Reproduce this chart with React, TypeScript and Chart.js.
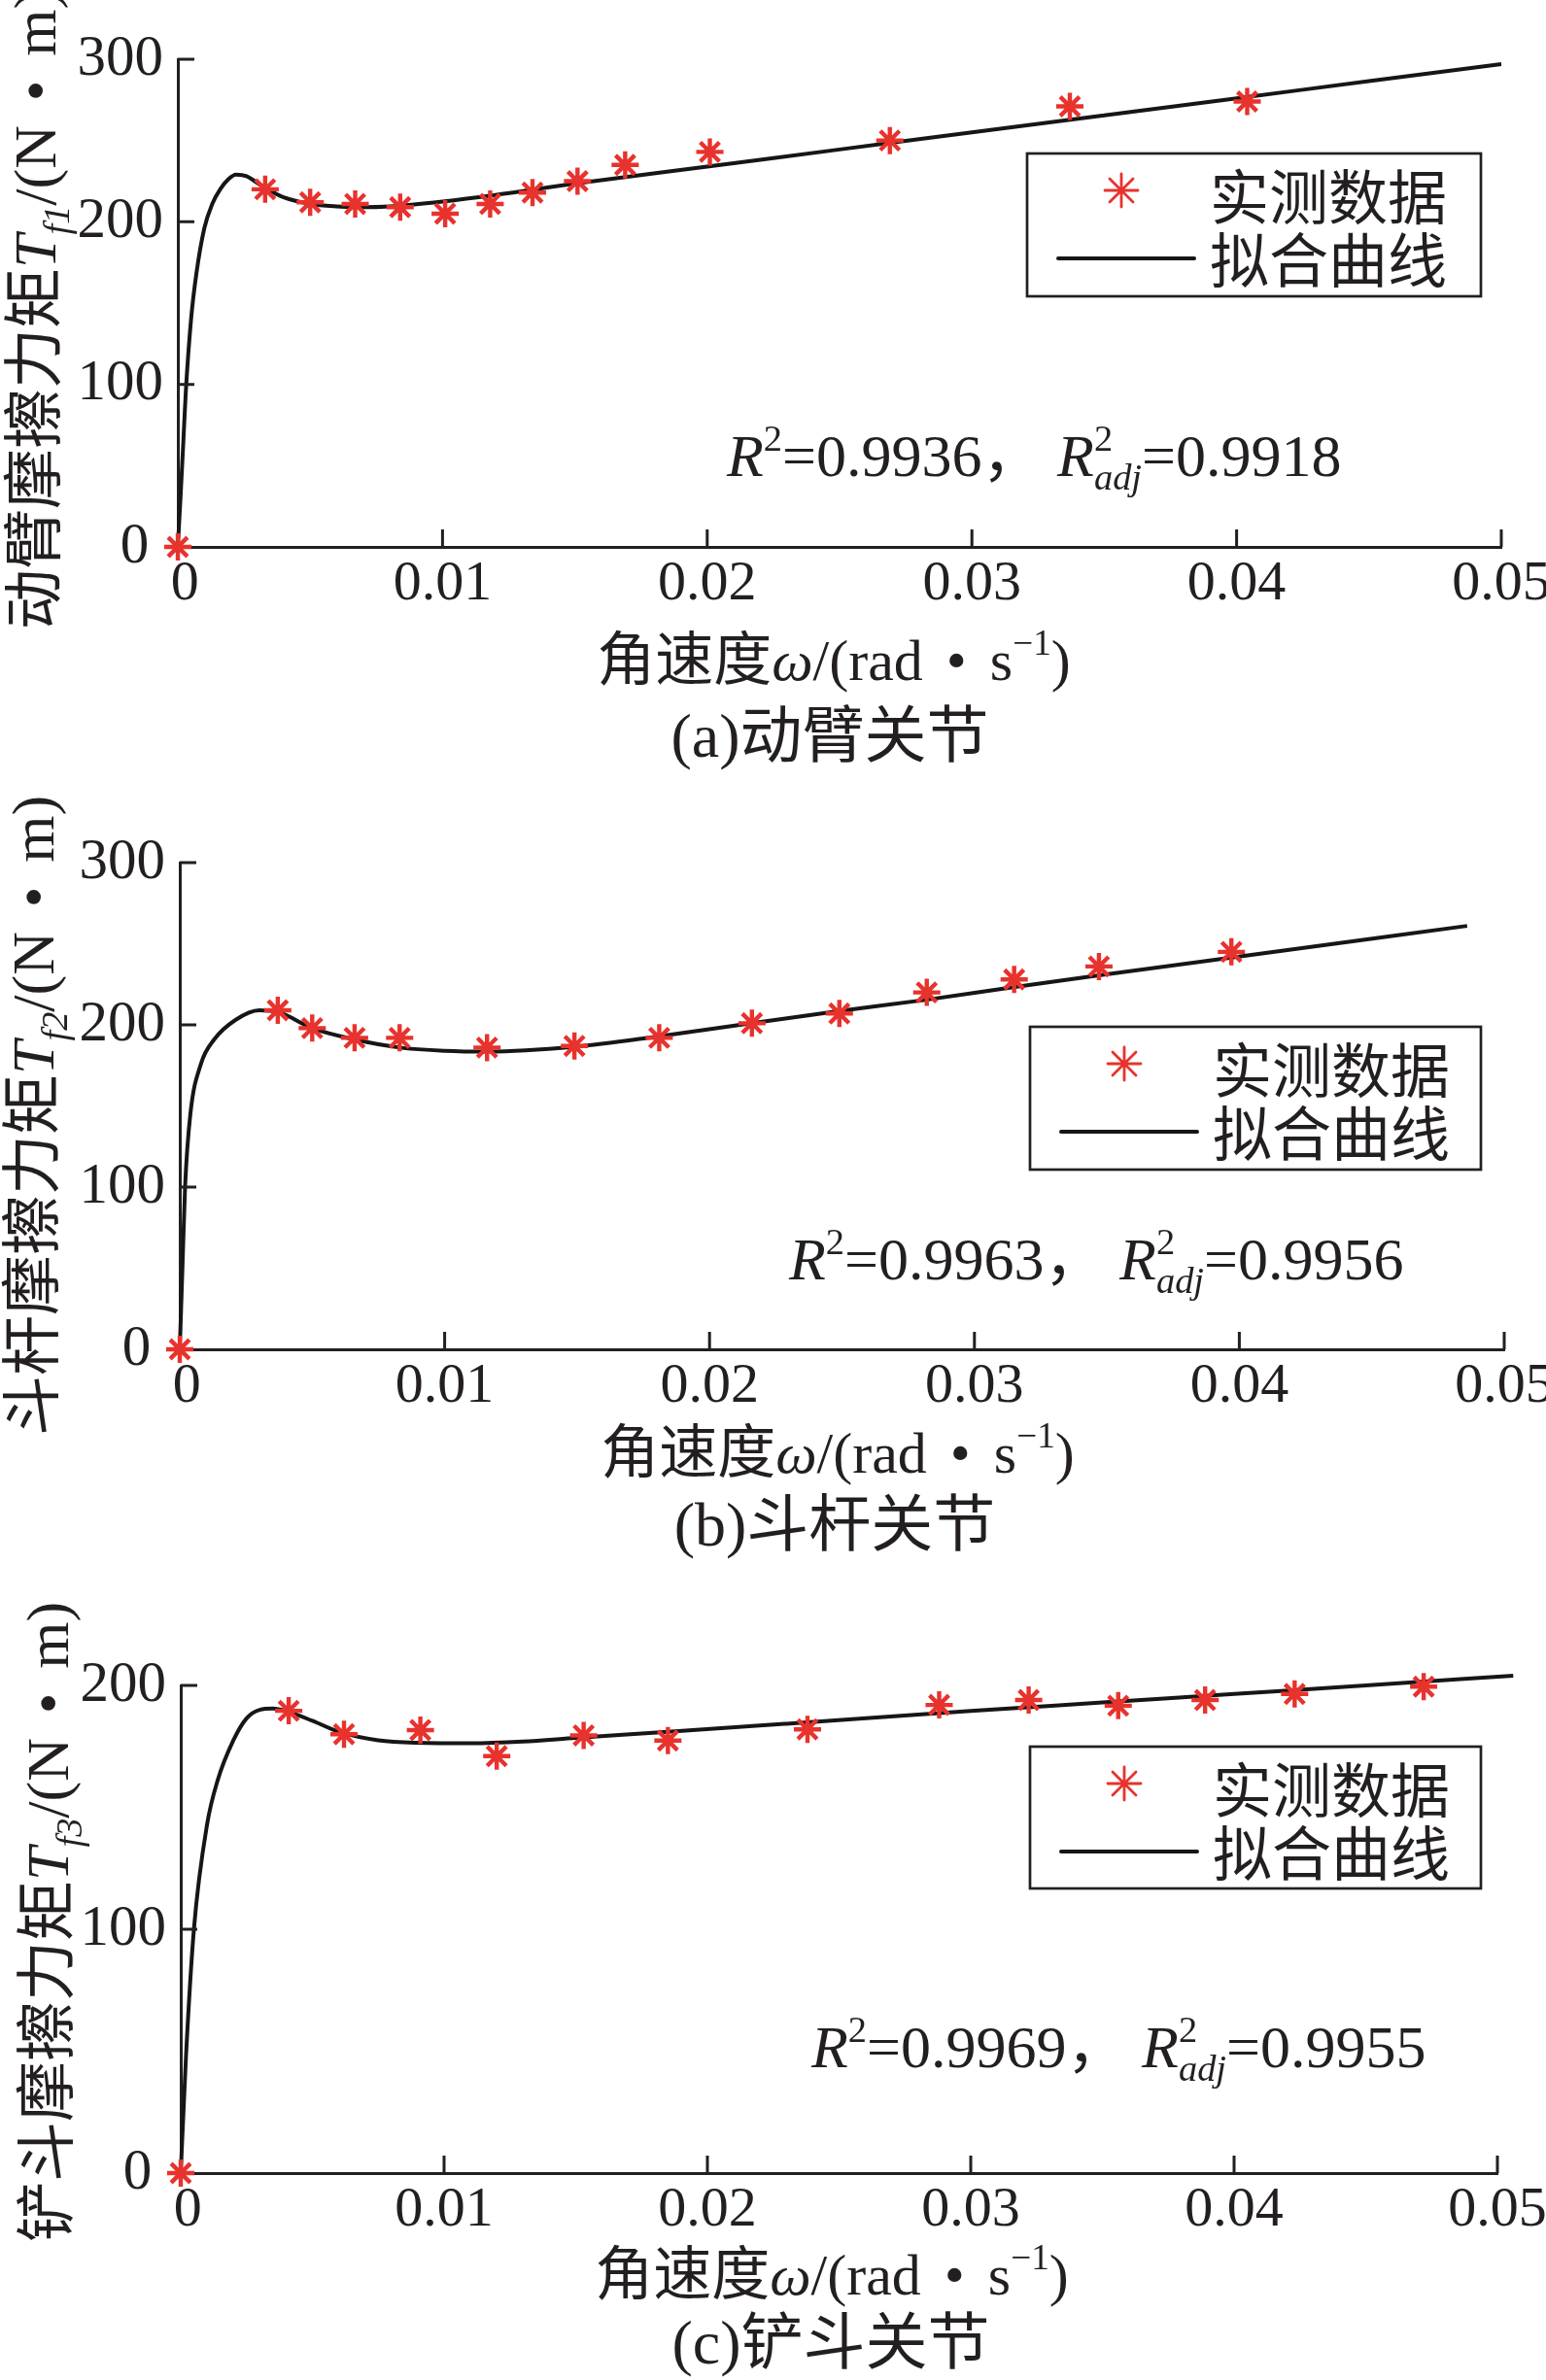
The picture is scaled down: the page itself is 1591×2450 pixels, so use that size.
import React, { useEffect, useRef } from 'react';
import { Chart, registerables } from 'chart.js';

Chart.register(...registerables);

// ---------------- data ----------------
const xTickValues = [0, 0.01, 0.02, 0.03, 0.04, 0.05];
const yTicksAB = [0, 100, 200, 300];
const yTicksC = [0, 100, 200];

// (a) boom joint
const boomMeasuredX = [0, 0.0033, 0.005, 0.0067, 0.0084, 0.0101, 0.0118, 0.0134, 0.0151, 0.0169, 0.0201, 0.0269, 0.0337, 0.0404];
const boomMeasuredY = [0, 220, 212, 211, 209, 205, 211, 218, 225, 235, 243, 250, 271, 274];
const boomFitX = [0, 0.0001, 0.0002, 0.0003, 0.0005, 0.0007, 0.001, 0.0013, 0.0016, 0.0019, 0.0022, 0.0026, 0.003, 0.0035, 0.004, 0.005, 0.006, 0.007, 0.008, 0.01, 0.012, 0.015, 0.02, 0.025, 0.03, 0.035, 0.04, 0.045, 0.05];
const boomFitY = [0, 30, 62, 95, 140, 168, 196, 211, 220, 226, 229, 228, 224, 219, 215, 211, 209.5, 209, 209.5, 212.5, 216.5, 223.5, 234, 244.5, 255, 265.5, 276, 286.5, 297];

// (b) arm joint
const armMeasuredX = [0, 0.0037, 0.005, 0.0066, 0.0083, 0.0116, 0.0149, 0.0181, 0.0216, 0.0249, 0.0282, 0.0315, 0.0347, 0.0397];
const armMeasuredY = [0, 209, 198, 192, 192, 186, 187, 192, 201, 207, 220, 228, 236, 245];
const armFitX = [0, 0.0001, 0.0002, 0.0004, 0.0008, 0.0013, 0.0021, 0.003, 0.0037, 0.005, 0.0066, 0.0083, 0.01, 0.0116, 0.0149, 0.0181, 0.0216, 0.0249, 0.0282, 0.0314, 0.0347, 0.0397, 0.0486];
const armFitY = [0, 50, 100, 145, 176, 191, 203, 209, 208, 198, 191, 186, 184, 183.5, 186.5, 193, 201, 208.5, 215.5, 223, 230.5, 241.5, 261];

// (c) bucket joint
const bucketMeasuredX = [0, 0.0041, 0.0062, 0.0091, 0.012, 0.0153, 0.0185, 0.0238, 0.0288, 0.0322, 0.0356, 0.0389, 0.0423, 0.0472];
const bucketMeasuredY = [0, 189.6, 180, 181.7, 171, 179.5, 177.4, 182, 192, 194, 191.7, 194, 196.5, 199.5];
const bucketFitX = [0, 0.0002, 0.0005, 0.001, 0.0014, 0.002, 0.0025, 0.003, 0.0035, 0.004, 0.005, 0.006, 0.0075, 0.009, 0.011, 0.013, 0.015, 0.0185, 0.023, 0.03, 0.035, 0.04, 0.045, 0.0506];
const bucketFitY = [0, 48, 100, 143, 161, 177.5, 186.5, 190, 190.5, 189.5, 185.5, 181, 177.5, 176.5, 176.3, 177, 178.5, 181, 184.3, 189.5, 193, 196.5, 200, 204];

const legendLabels = ['实测数据', '拟合曲线'];
const r2Values = ['0.9936', '0.9963', '0.9969'];
const r2AdjValues = ['0.9918', '0.9956', '0.9955'];
const yTitleNames = ['动臂摩擦力矩', '斗杆摩擦力矩', '铲斗摩擦力矩'];
const yTitleSubs = ['f1', 'f2', 'f3'];
const subTitles = ['(a)动臂关节', '(b)斗杆关节', '(c)铲斗关节'];

// ---------------- styles ----------------
const TEXT = '#231f20';
const AXIS = '#231f20';
const CURVE = '#161616';
const RED = '#e8322d';
const FAMILY = '"Liberation Serif", "Noto Sans CJK SC", serif';
const PAGE_W = 1591;

type Run = { t: string; i?: boolean; sup?: boolean; sub?: boolean; stack?: boolean; pad?: number };

function fontFor(r: Run, size: number) {
  const s = r.sup || r.sub ? size * 0.62 : size;
  return `${r.i ? 'italic ' : ''}${s}px ${FAMILY}`;
}

function runsWidth(ctx: CanvasRenderingContext2D, runs: Run[], size: number) {
  let total = 0;
  let prevW = 0;
  for (const r of runs) {
    ctx.font = fontFor(r, size);
    const pad = (r.pad || 0) * size;
    const w = ctx.measureText(r.t).width + 2 * pad;
    if (r.stack) {
      const nw = Math.max(prevW, w);
      total += nw - prevW;
      prevW = nw;
    } else {
      total += w;
      prevW = w;
    }
  }
  return total;
}

function drawRuns(ctx: CanvasRenderingContext2D, runs: Run[], x: number, baseline: number, size: number) {
  let cx = x;
  let prevStart = x;
  let prevW = 0;
  ctx.textAlign = 'left';
  ctx.textBaseline = 'alphabetic';
  for (const r of runs) {
    ctx.font = fontFor(r, size);
    const pad = (r.pad || 0) * size;
    const w = ctx.measureText(r.t).width + 2 * pad;
    const dy = r.sup ? -0.42 * size : r.sub ? 0.22 * size : 0;
    if (r.stack) {
      ctx.fillText(r.t, prevStart + pad, baseline + dy);
      const nw = Math.max(prevW, w);
      cx = prevStart + nw;
      prevW = nw;
    } else {
      ctx.fillText(r.t, cx + pad, baseline + dy);
      prevStart = cx;
      prevW = w;
      cx += w;
    }
  }
}

type PanelCfg = {
  idx: number;
  top: number;
  height: number;
  area: { left: number; right: number; top: number; bottom: number };
  yMax: number;
  yTicks: number[];
  mx: number[];
  my: number[];
  fx: number[];
  fy: number[];
  legend: { x: number; y: number; w: number; h: number };
  r2: { x: number; cy: number };
  xTitle: { cx: number; cy: number };
  sub: { cx: number; cy: number };
  yTitle: { cx: number; bottom: number };
};

const panels: PanelCfg[] = [
  {
    idx: 0, top: 0, height: 800,
    area: { left: 183, right: 1545, top: 61, bottom: 563 },
    yMax: 300, yTicks: yTicksAB,
    mx: boomMeasuredX, my: boomMeasuredY, fx: boomFitX, fy: boomFitY,
    legend: { x: 1057, y: 158, w: 467, h: 147 },
    r2: { x: 748, cy: 469 },
    xTitle: { cx: 858, cy: 678 },
    sub: { cx: 854, cy: 756 },
    yTitle: { cx: 35, bottom: 648 },
  },
  {
    idx: 1, top: 800, height: 820,
    area: { left: 185, right: 1548, top: 888, bottom: 1389 },
    yMax: 300, yTicks: yTicksAB,
    mx: armMeasuredX, my: armMeasuredY, fx: armFitX, fy: armFitY,
    legend: { x: 1060, y: 1057, w: 464, h: 147 },
    r2: { x: 812, cy: 1296 },
    xTitle: { cx: 862, cy: 1494 },
    sub: { cx: 859, cy: 1568 },
    yTitle: { cx: 33, bottom: 1478 },
  },
  {
    idx: 2, top: 1620, height: 830,
    area: { left: 186, right: 1541, top: 1735, bottom: 2237 },
    yMax: 200, yTicks: yTicksC,
    mx: bucketMeasuredX, my: bucketMeasuredY, fx: bucketFitX, fy: bucketFitY,
    legend: { x: 1060, y: 1798, w: 464, h: 146 },
    r2: { x: 835, cy: 2107 },
    xTitle: { cx: 856, cy: 2340 },
    sub: { cx: 855, cy: 2410 },
    yTitle: { cx: 48, bottom: 2308 },
  },
];

function drawAsterisk(ctx: CanvasRenderingContext2D, x: number, y: number, r: number) {
  ctx.beginPath();
  for (let k = 0; k < 4; k++) {
    const a = (k * Math.PI) / 4;
    ctx.moveTo(x - r * Math.cos(a), y - r * Math.sin(a));
    ctx.lineTo(x + r * Math.cos(a), y + r * Math.sin(a));
  }
  ctx.stroke();
}

function makeDecorPlugin(cfg: PanelCfg) {
  return {
    id: 'decor' + cfg.idx,
    afterDraw(chart: any) {
      const ctx: CanvasRenderingContext2D = chart.ctx;
      const ca = chart.chartArea;
      const xs = chart.scales.x;
      const ys = chart.scales.y;
      ctx.save();
      // inward tick marks
      ctx.strokeStyle = AXIS;
      ctx.lineWidth = 3;
      ctx.lineCap = 'butt';
      ctx.beginPath();
      xTickValues.forEach((v) => {
        if (v === 0) return;
        const px = xs.getPixelForValue(v);
        ctx.moveTo(px, ca.bottom);
        ctx.lineTo(px, ca.bottom - 18);
      });
      cfg.yTicks.forEach((v) => {
        if (v === 0) return;
        const py = ys.getPixelForValue(v);
        ctx.moveTo(ca.left, py);
        ctx.lineTo(ca.left + 17, py);
      });
      ctx.stroke();

      // page coordinates from here
      ctx.translate(0, -cfg.top);
      ctx.fillStyle = TEXT;

      // legend
      const L = cfg.legend;
      ctx.strokeStyle = AXIS;
      ctx.lineWidth = 2.7;
      ctx.strokeRect(L.x, L.y, L.w, L.h);
      ctx.strokeStyle = RED;
      ctx.lineWidth = 2.8;
      ctx.lineCap = 'round';
      drawAsterisk(ctx, L.x + 97, L.y + 38, 17);
      ctx.strokeStyle = CURVE;
      ctx.lineWidth = 4;
      ctx.beginPath();
      ctx.moveTo(L.x + 32, L.y + 108);
      ctx.lineTo(L.x + 172, L.y + 108);
      ctx.stroke();
      const ls = 61;
      drawRuns(ctx, [{ t: legendLabels[0] }], L.x + 188, L.y + 45 + 0.38 * ls, ls);
      drawRuns(ctx, [{ t: legendLabels[1] }], L.x + 188, L.y + 110 + 0.38 * ls, ls);

      // R^2 annotation
      const rs = 62;
      const r2Runs: Run[] = [
        { t: 'R', i: true }, { t: '2', sup: true }, { t: '=' + r2Values[cfg.idx] + '，' },
        { t: ' ' },
        { t: 'R', i: true }, { t: '2', sup: true }, { t: 'adj', i: true, sub: true, stack: true },
        { t: '=' + r2AdjValues[cfg.idx] },
      ];
      drawRuns(ctx, r2Runs, cfg.r2.x, cfg.r2.cy + 0.34 * rs, rs);

      // x-axis title
      const xs2 = 60;
      const xRuns: Run[] = [
        { t: '角速度' }, { t: 'ω', i: true }, { t: '/(rad' }, { t: '•', pad: 0.4 },
        { t: 's' }, { t: '−1', sup: true }, { t: ')' },
      ];
      const xw = runsWidth(ctx, xRuns, xs2);
      drawRuns(ctx, xRuns, cfg.xTitle.cx - xw / 2, cfg.xTitle.cy + 0.36 * xs2, xs2);

      // subtitle
      const ss = 64;
      const sRuns: Run[] = [{ t: subTitles[cfg.idx] }];
      const sw = runsWidth(ctx, sRuns, ss);
      drawRuns(ctx, sRuns, cfg.sub.cx - sw / 2, cfg.sub.cy + 0.36 * ss, ss);

      // y-axis title (rotated)
      const ys2 = 62;
      const yRuns: Run[] = [
        { t: yTitleNames[cfg.idx] }, { t: 'T', i: true }, { t: yTitleSubs[cfg.idx], i: true, sub: true },
        { t: '/(N' }, { t: '•', pad: 0.4 }, { t: 'm)' },
      ];
      ctx.save();
      ctx.translate(cfg.yTitle.cx, cfg.yTitle.bottom);
      ctx.rotate(-Math.PI / 2);
      drawRuns(ctx, yRuns, 0, 0.36 * ys2, ys2);
      ctx.restore();

      ctx.restore();
    },
  };
}

function Panel({ cfg }: { cfg: PanelCfg }) {
  const ref = useRef<HTMLCanvasElement | null>(null);
  useEffect(() => {
    const canvas = ref.current;
    if (!canvas) return;
    const a = cfg.area;
    const chart = new Chart(canvas, {
      type: 'scatter',
      data: {
        datasets: [
          {
            label: legendLabels[1],
            data: cfg.fx.map((x, i) => ({ x, y: cfg.fy[i] })),
            showLine: true,
            borderColor: CURVE,
            borderWidth: 4,
            pointRadius: 0,
            pointHoverRadius: 0,
            cubicInterpolationMode: 'monotone',
            fill: false,
            clip: false,
            order: 2,
          } as any,
          {
            label: legendLabels[0],
            data: cfg.mx.map((x, i) => ({ x, y: cfg.my[i] })),
            showLine: false,
            pointStyle: 'star',
            pointRadius: 14,
            pointHoverRadius: 14,
            pointBorderColor: RED,
            pointBackgroundColor: RED,
            pointBorderWidth: 4.4,
            borderColor: RED,
            backgroundColor: RED,
            clip: false,
            order: 1,
          } as any,
        ],
      },
      options: {
        animation: false,
        responsive: false,
        devicePixelRatio: 1,
        events: [],
        layout: {
          padding: { left: 0, top: a.top - cfg.top, right: PAGE_W - a.right, bottom: 0 },
        },
        plugins: { legend: { display: false }, tooltip: { enabled: false } },
        scales: {
          x: {
            type: 'linear',
            position: 'bottom',
            min: 0,
            max: 0.05,
            afterBuildTicks: (s: any) => {
              s.ticks = xTickValues.map((v) => ({ value: v }));
            },
            afterFit: (s: any) => {
              s.height = cfg.height - (a.bottom - cfg.top);
              s.paddingLeft = 0;
              s.paddingRight = 0;
            },
            grid: { display: false, drawTicks: false },
            border: { display: true, color: AXIS, width: 3 },
            ticks: {
              color: TEXT,
              font: { family: 'Liberation Serif', size: 58 },
              padding: 4,
              maxRotation: 0,
              minRotation: 0,
              autoSkip: false,
              callback: (v: any) => (Number(v) === 0 ? ' 0' : Number(v).toFixed(2)),
            },
          },
          y: {
            type: 'linear',
            position: 'left',
            min: 0,
            max: cfg.yMax,
            afterBuildTicks: (s: any) => {
              s.ticks = cfg.yTicks.map((v) => ({ value: v }));
            },
            afterFit: (s: any) => {
              s.width = a.left;
              s.paddingTop = 0;
              s.paddingBottom = 0;
            },
            grid: { display: false, drawTicks: false },
            border: { display: true, color: AXIS, width: 3 },
            ticks: {
              color: TEXT,
              font: { family: 'Liberation Serif', size: 59 },
              padding: 15,
              autoSkip: false,
              callback: (v: any) => (Number(v) === 0 ? '0 ' : String(v)),
            },
          },
        },
      } as any,
      plugins: [makeDecorPlugin(cfg)],
    });
    return () => chart.destroy();
  }, [cfg]);
  return (
    <canvas
      ref={ref}
      width={PAGE_W}
      height={cfg.height}
      style={{ position: 'absolute', left: 0, top: cfg.top, width: PAGE_W, height: cfg.height, display: 'block' }}
    />
  );
}

export default function App() {
  return (
    <div style={{ position: 'absolute', left: 0, top: 0, width: PAGE_W, height: 2450, background: '#ffffff', overflow: 'hidden' }}>
      {panels.map((p) => (
        <Panel key={p.idx} cfg={p} />
      ))}
    </div>
  );
}
